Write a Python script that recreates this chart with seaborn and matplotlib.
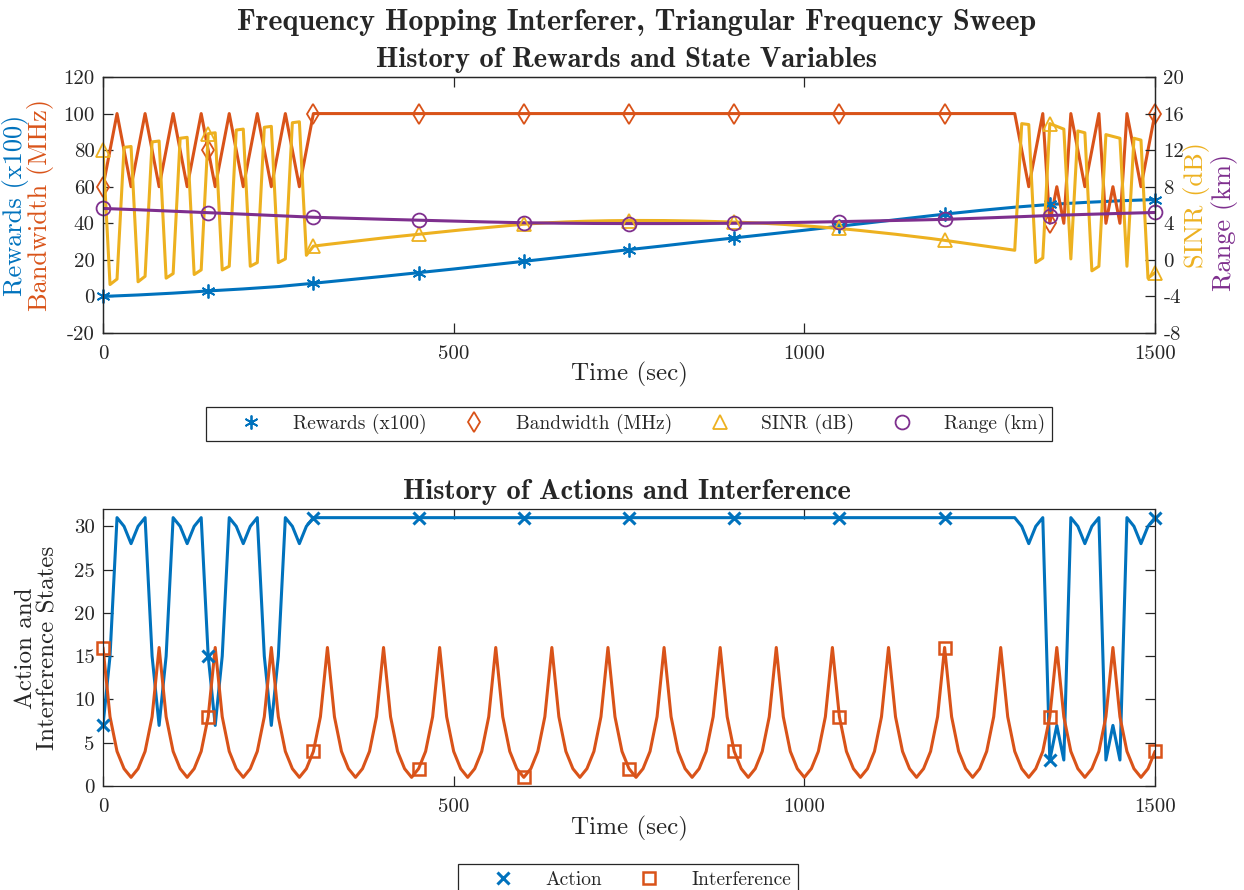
import matplotlib
matplotlib.use("Agg")
import matplotlib.pyplot as plt
import seaborn as sns

# ---------------------------------------------------------------- data
# Fine time grid (10 s steps) used by the hopping / sweep series
time_s = list(range(0, 1510, 10))
# Coarse time grid (50 s steps) for the slowly varying series
time_coarse = list(range(0, 1510, 50))

rewards_x100 = [
    0.0, 0.8, 1.8, 3.0, 4.1, 5.4, 7.2, 9.1, 11.0, 13.0,
    15.0, 17.1, 19.2, 21.3, 23.4, 25.6, 27.7, 29.9, 32.0, 34.1,
    36.2, 38.4, 40.6, 42.8, 45.0, 47.0, 48.8, 50.3, 51.4, 52.3,
    53.0,
]

range_km = [
    5.62, 5.48, 5.32, 5.16, 5.00, 4.83, 4.66, 4.55, 4.44, 4.34,
    4.24, 4.14, 4.06, 4.01, 3.98, 3.97, 3.97, 3.98, 4.00, 4.05,
    4.11, 4.18, 4.26, 4.34, 4.43, 4.56, 4.70, 4.85, 4.97, 5.08,
    5.18,
]

bandwidth_mhz = [
    60, 80, 100, 80, 60, 80, 100, 80, 60, 80,        # 0-90
    100, 80, 60, 80, 100, 80, 60, 80, 100, 80,       # 100-190
    60, 80, 100, 80, 60, 80, 100, 80, 60, 80,        # 200-290
    100, 100, 100, 100, 100, 100, 100, 100, 100, 100,
    100, 100, 100, 100, 100, 100, 100, 100, 100, 100,
    100, 100, 100, 100, 100, 100, 100, 100, 100, 100,
    100, 100, 100, 100, 100, 100, 100, 100, 100, 100,
    100, 100, 100, 100, 100, 100, 100, 100, 100, 100,
    100, 100, 100, 100, 100, 100, 100, 100, 100, 100,
    100, 100, 100, 100, 100, 100, 100, 100, 100, 100,
    100, 100, 100, 100, 100, 100, 100, 100, 100, 100,
    100, 100, 100, 100, 100, 100, 100, 100, 100, 100,
    100, 100, 100, 100, 100, 100, 100, 100, 100, 100,  # 1200-1290
    100, 80, 60, 80, 100, 40, 60, 40, 100, 80,       # 1300-1390
    60, 80, 100, 40, 60, 40, 100, 80, 60, 80,        # 1400-1490
    100,
]

sinr_db = [
    12.0, -2.7, -2.1, 12.3, 12.4, -2.4, -1.8, 12.9, 13.0, -2.0,
    -1.5, 13.3, 13.4, -1.6, -1.1, 13.8, 13.9, -1.1, -0.7, 14.2,
    14.3, -0.7, -0.3, 14.5, 14.6, -0.3, 0.1, 15.0, 15.1, 0.5,
    1.50, 1.60, 1.69, 1.78, 1.87, 1.96, 2.05, 2.14, 2.23, 2.32,
    2.40, 2.48, 2.56, 2.64, 2.72, 2.80, 2.88, 2.96, 3.04, 3.12,
    3.20, 3.27, 3.34, 3.41, 3.48, 3.55, 3.62, 3.69, 3.76, 3.83,
    3.90, 3.95, 4.00, 4.04, 4.08, 4.12, 4.15, 4.18, 4.21, 4.23,
    4.25, 4.27, 4.28, 4.29, 4.30, 4.30, 4.31, 4.31, 4.31, 4.31,
    4.30, 4.29, 4.28, 4.27, 4.26, 4.24, 4.22, 4.20, 4.18, 4.16,
    4.14, 4.11, 4.08, 4.05, 4.01, 3.97, 3.93, 3.88, 3.83, 3.78,
    3.73, 3.67, 3.61, 3.55, 3.49, 3.43, 3.36, 3.29, 3.21, 3.13,
    3.05, 2.97, 2.89, 2.80, 2.71, 2.62, 2.53, 2.44, 2.34, 2.24,
    2.14, 2.03, 1.92, 1.81, 1.70, 1.59, 1.48, 1.37, 1.26, 1.15,
    1.05, 14.9, 14.8, -0.3, 0.2, 14.9, 14.6, 14.3, 0.1, 14.1,
    13.9, -1.2, -0.7, 13.7, 13.5, 13.3, -0.7, 13.3, 13.1, -2.0,
    -1.4,
]

action_state = [
    7, 15, 31, 30, 28, 30, 31, 15, 7, 15,
    31, 30, 28, 30, 31, 15, 7, 15, 31, 30,
    28, 30, 31, 15, 7, 15, 31, 30, 28, 30,
    31, 31, 31, 31, 31, 31, 31, 31, 31, 31,
    31, 31, 31, 31, 31, 31, 31, 31, 31, 31,
    31, 31, 31, 31, 31, 31, 31, 31, 31, 31,
    31, 31, 31, 31, 31, 31, 31, 31, 31, 31,
    31, 31, 31, 31, 31, 31, 31, 31, 31, 31,
    31, 31, 31, 31, 31, 31, 31, 31, 31, 31,
    31, 31, 31, 31, 31, 31, 31, 31, 31, 31,
    31, 31, 31, 31, 31, 31, 31, 31, 31, 31,
    31, 31, 31, 31, 31, 31, 31, 31, 31, 31,
    31, 31, 31, 31, 31, 31, 31, 31, 31, 31,
    31, 30, 28, 30, 31, 3, 7, 3, 31, 30,
    28, 30, 31, 3, 7, 3, 31, 30, 28, 30,
    31,
]

interference_state = [
    16, 8, 4, 2, 1, 2, 4, 8, 16, 8,
    4, 2, 1, 2, 4, 8, 16, 8, 4, 2,
    1, 2, 4, 8, 16, 8, 4, 2, 1, 2,
    4, 8, 16, 8, 4, 2, 1, 2, 4, 8,
    16, 8, 4, 2, 1, 2, 4, 8, 16, 8,
    4, 2, 1, 2, 4, 8, 16, 8, 4, 2,
    1, 2, 4, 8, 16, 8, 4, 2, 1, 2,
    4, 8, 16, 8, 4, 2, 1, 2, 4, 8,
    16, 8, 4, 2, 1, 2, 4, 8, 16, 8,
    4, 2, 1, 2, 4, 8, 16, 8, 4, 2,
    1, 2, 4, 8, 16, 8, 4, 2, 1, 2,
    4, 8, 16, 8, 4, 2, 1, 2, 4, 8,
    16, 8, 4, 2, 1, 2, 4, 8, 16, 8,
    4, 2, 1, 2, 4, 8, 16, 8, 4, 2,
    1, 2, 4, 8, 16, 8, 4, 2, 1, 2,
    4,
]

x_ticks = [0, 500, 1000, 1500]
left_ticks = [-20, 0, 20, 40, 60, 80, 100, 120]
right_ticks = [-8, -4, 0, 4, 8, 12, 16, 20]
state_ticks = [0, 5, 10, 15, 20, 25, 30]

# ---------------------------------------------------------------- style
C_BLUE = "#0072BD"
C_ORANGE = "#D95319"
C_YELLOW = "#EDB120"
C_PURPLE = "#7E2F8E"
C_AXIS = "#262626"

sns.set_style("ticks")
plt.rcParams.update({
    "font.family": "cmr10",
    "mathtext.fontset": "cm",
    "axes.unicode_minus": False,
    "axes.formatter.use_mathtext": False,
    "xtick.direction": "in",
    "ytick.direction": "in",
    "xtick.major.size": 7,
    "ytick.major.size": 7,
    "xtick.major.width": 0.9,
    "ytick.major.width": 0.9,
    "xtick.color": C_AXIS,
    "ytick.color": C_AXIS,
    "axes.edgecolor": C_AXIS,
    "axes.linewidth": 0.9,
})

TICK_FS = 15
LABEL_FS = 18
SIDE_FS = 19
TITLE_FS = 20.5
SUPTITLE_FS = 21.6
LW = 2.2

W, H = 1244, 890
fig = plt.figure(figsize=(W / 100, H / 100), dpi=100)


def box(l, t, r, b):
    return [l / W, 1 - b / H, (r - l) / W, (b - t) / H]


ax1 = fig.add_axes(box(103, 77, 1155, 333))
ax1r = ax1.twinx()
ax2 = fig.add_axes(box(103, 509, 1155, 786))

# ---------------------------------------------------------------- top panel
sns.lineplot(x=time_coarse, y=rewards_x100, ax=ax1, color=C_BLUE,
             linewidth=LW, estimator=None)
sns.lineplot(x=time_s, y=bandwidth_mhz, ax=ax1, color=C_ORANGE,
             linewidth=LW, estimator=None)
sns.lineplot(x=time_s, y=sinr_db, ax=ax1r, color=C_YELLOW,
             linewidth=LW, estimator=None)
sns.lineplot(x=time_coarse, y=range_km, ax=ax1r, color=C_PURPLE,
             linewidth=LW, estimator=None)

mk = dict(linestyle="none", clip_on=False, markersize=10, markeredgewidth=1.3)
h_rew, = ax1.plot(time_coarse[::3], rewards_x100[::3], marker=(6, 2, 0),
                  color=C_BLUE, label="Rewards (x100)", **mk)
h_bw, = ax1.plot(time_s[::15], bandwidth_mhz[::15], marker="d",
                 color=C_ORANGE, markerfacecolor="none",
                 label="Bandwidth (MHz)", **mk)
h_sinr, = ax1r.plot(time_s[::15], sinr_db[::15], marker="^",
                    color=C_YELLOW, markerfacecolor="none",
                    label="SINR (dB)", **mk)
h_rng, = ax1r.plot(time_coarse[::3], range_km[::3], marker="o",
                   color=C_PURPLE, markerfacecolor="none",
                   label="Range (km)", **mk)

ax1.set_xlim(0, 1500)
ax1.set_ylim(-20, 120)
ax1r.set_ylim(-8, 20)
ax1.set_xticks(x_ticks)
ax1.set_yticks(left_ticks)
ax1r.set_yticks(right_ticks)
ax1.tick_params(axis="y", labelsize=TICK_FS, pad=6)
ax1.tick_params(axis="x", labelsize=TICK_FS, top=True, pad=9)
ax1r.tick_params(labelsize=TICK_FS, pad=6)
ax1.set_xlabel("")
ax1.set_ylabel("")
ax1r.set_ylabel("")
for a in (ax1, ax1r):
    for s in a.spines.values():
        s.set_visible(True)
        s.set_color(C_AXIS)

fig.text(16 / W, 1 - 205 / H, "Rewards (x100)", color=C_BLUE,
         fontsize=SIDE_FS, rotation=90, ha="center", va="center")
fig.text(41 / W, 1 - 205 / H, "Bandwidth (MHz)", color=C_ORANGE,
         fontsize=SIDE_FS, rotation=90, ha="center", va="center")
fig.text(1197 / W, 1 - 205 / H, "SINR (dB)", color=C_YELLOW,
         fontsize=SIDE_FS, rotation=90, ha="center", va="center")
fig.text(1225 / W, 1 - 222 / H, "Range (km)", color=C_PURPLE,
         fontsize=SIDE_FS, rotation=90, ha="center", va="center")

fig.text(629 / W, 1 - 374 / H, "Time (sec)", fontsize=LABEL_FS,
         ha="center", va="center", color=C_AXIS)

# ---------------------------------------------------------------- bottom panel
sns.lineplot(x=time_s, y=action_state, ax=ax2, color=C_BLUE,
             linewidth=LW, estimator=None)
sns.lineplot(x=time_s, y=interference_state, ax=ax2, color=C_ORANGE,
             linewidth=LW, estimator=None)
h_act, = ax2.plot(time_s[::15], action_state[::15], marker="x",
                  color=C_BLUE, label="Action", linestyle="none",
                  clip_on=False, markersize=9, markeredgewidth=2.2)
h_int, = ax2.plot(time_s[::15], interference_state[::15], marker="s",
                  color=C_ORANGE, markerfacecolor="none", label="Interference",
                  linestyle="none", clip_on=False, markersize=8,
                  markeredgewidth=1.8)

ax2.set_xlim(0, 1500)
ax2.set_ylim(0, 32)
ax2.set_xticks(x_ticks)
ax2.set_yticks(state_ticks)
ax2.tick_params(labelsize=TICK_FS, top=True, right=True, pad=6)
ax2.tick_params(axis="x", pad=9)
ax2.set_xlabel("")
ax2.set_ylabel("")
for s in ax2.spines.values():
    s.set_visible(True)
    s.set_color(C_AXIS)

fig.text(37 / W, 1 - 648 / H, "Action and\nInterference States",
         fontsize=LABEL_FS, rotation=90, ha="center", va="center",
         linespacing=1.0, color=C_AXIS)

fig.text(629 / W, 1 - 828 / H, "Time (sec)", fontsize=LABEL_FS,
         ha="center", va="center", color=C_AXIS)

# ---------------------------------------------------------------- titles
fig.text(637 / W, 1 - 22 / H, "Frequency Hopping Interferer, Triangular Frequency Sweep",
         fontsize=SUPTITLE_FS, family="cmb10", ha="center", va="center")
fig.text(627 / W, 1 - 60 / H, "History of Rewards and State Variables",
         fontsize=TITLE_FS, family="cmb10", ha="center", va="center")
fig.text(627 / W, 1 - 492 / H, "History of Actions and Interference",
         fontsize=TITLE_FS, family="cmb10", ha="center", va="center")

# ---------------------------------------------------------------- legends
leg_kw = dict(loc="upper center", frameon=True, fancybox=False,
              edgecolor=C_AXIS, fontsize=14, handlelength=3.9,
              handletextpad=0.2, columnspacing=0.5, borderpad=0.36,
              borderaxespad=0.0)
leg1 = fig.legend(handles=[h_rew, h_bw, h_sinr, h_rng],
                  labels=["Rewards (x100)", "Bandwidth (MHz)", "SINR (dB)", "Range (km)"],
                  ncol=4, bbox_to_anchor=(629 / W, 1 - 407 / H), **leg_kw)
leg2 = fig.legend(handles=[h_act, h_int], labels=["Action", "Interference"],
                  ncol=2, bbox_to_anchor=(628 / W, 1 - 864 / H), **leg_kw)
for lg in (leg1, leg2):
    lg.get_frame().set_linewidth(0.9)
    lg.get_frame().set_alpha(1.0)

fig.savefig("out.png", dpi=100)
